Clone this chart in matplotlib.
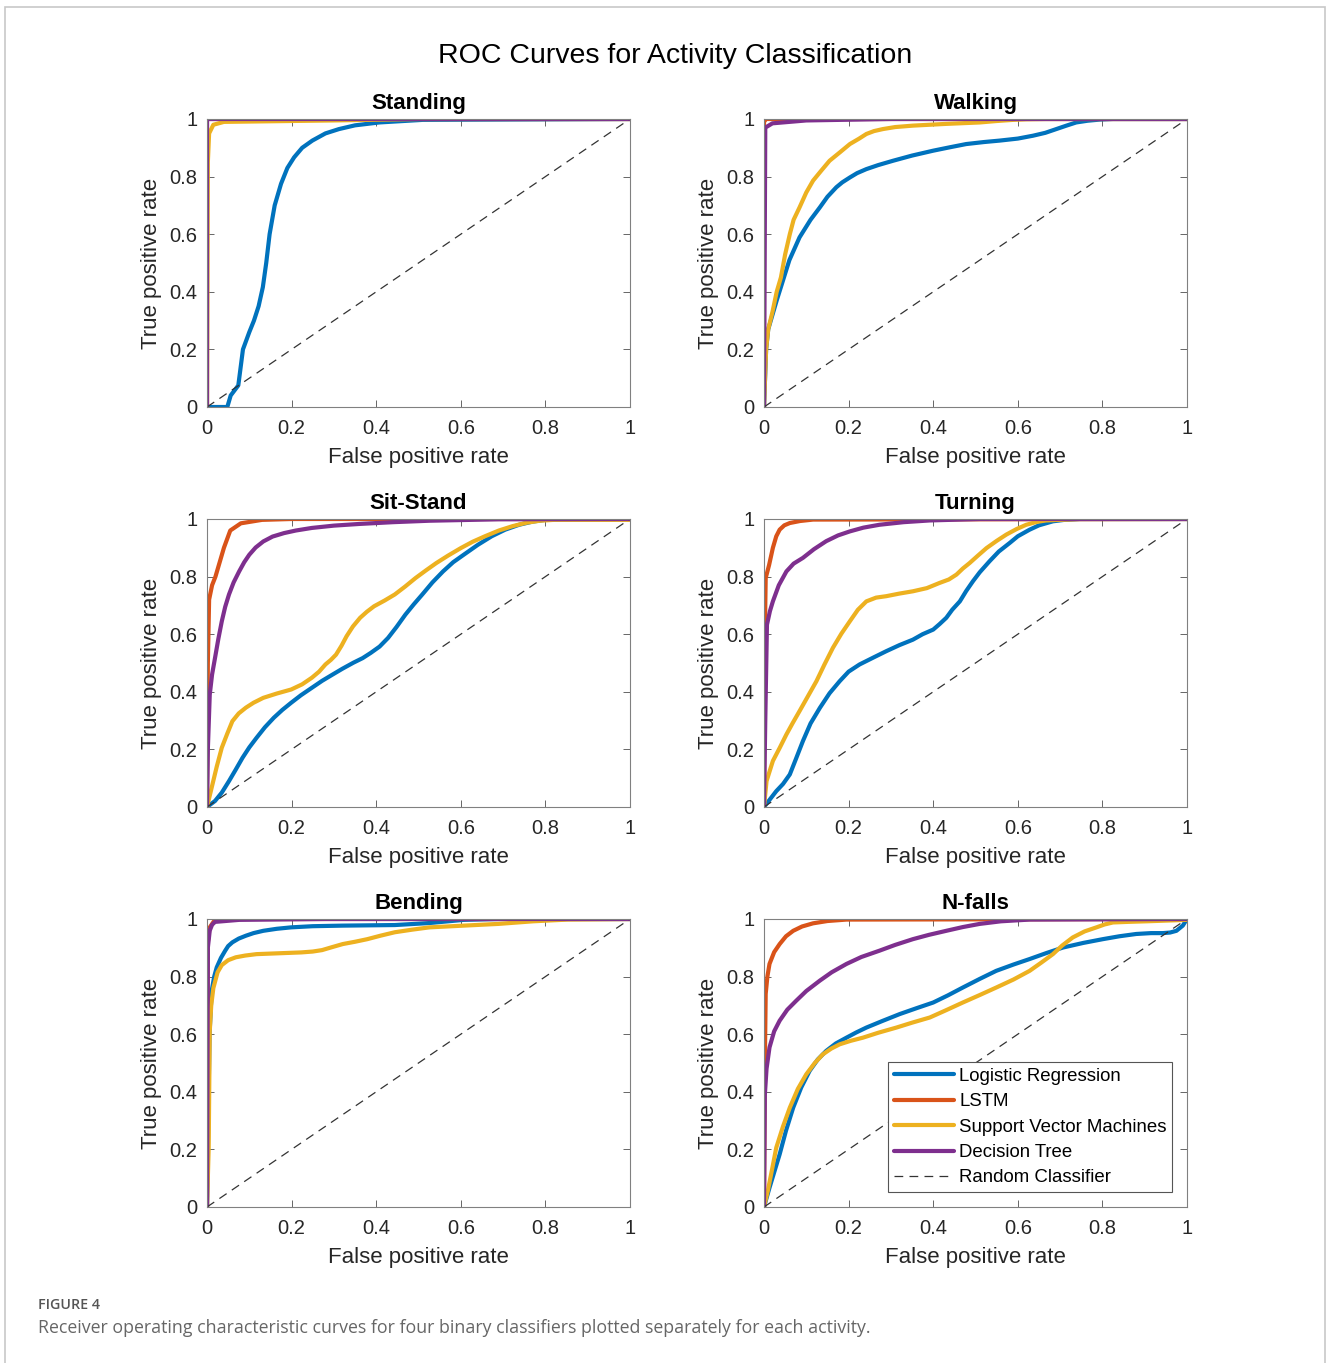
import matplotlib
matplotlib.use("Agg")
import matplotlib.pyplot as plt
from matplotlib.patches import Rectangle

plt.rcParams["font.family"] = ["Liberation Sans", "DejaVu Sans"]

# MATLAB default line colours
C_LR = "#0072BD"
C_LSTM = "#D95319"
C_SVM = "#EDB120"
C_DT = "#7E2F8E"

MODELS = ["Logistic Regression", "LSTM", "Support Vector Machines", "Decision Tree"]
ACTIVITIES = ["Standing", "Walking", "Sit-Stand", "Turning", "Bending", "N-falls"]
TICKS = [0, 0.2, 0.4, 0.6, 0.8, 1]
TICK_LABELS = ["0", "0.2", "0.4", "0.6", "0.8", "1"]

# ---- Standing ----
standing_lr_x = [0, 0.048, 0.056, 0.074, 0.085, 0.1, 0.111, 0.122, 0.132, 0.14, 0.148, 0.16, 0.175, 0.19, 0.206, 0.225, 0.249, 0.28, 0.312, 0.35, 0.407, 0.51, 1]
standing_lr_y = [0, 0, 0.04, 0.075, 0.2, 0.26, 0.30, 0.35, 0.416, 0.50, 0.60, 0.70, 0.775, 0.83, 0.867, 0.90, 0.925, 0.95, 0.965, 0.978, 0.988, 0.997, 1]
standing_lstm_x = [0, 0, 1]
standing_lstm_y = [0, 1, 1]
standing_svm_x = [0, 0.002, 0.005, 0.015, 0.04, 0.3, 0.5, 1]
standing_svm_y = [0, 0.85, 0.95, 0.98, 0.99, 0.995, 1, 1]
standing_dt_x = [0, 0, 1]
standing_dt_y = [0, 1, 1]

# ---- Walking ----
walking_lr_x = [0, 0.005, 0.01, 0.02, 0.03, 0.045, 0.06, 0.084, 0.11, 0.132, 0.15, 0.171, 0.185, 0.203, 0.22, 0.242, 0.27, 0.305, 0.35, 0.40, 0.44, 0.478, 0.52, 0.557, 0.6, 0.636, 0.665, 0.691, 0.715, 0.738, 0.765, 0.794, 0.825, 1]
walking_lr_y = [0, 0.2, 0.27, 0.32, 0.37, 0.44, 0.51, 0.589, 0.65, 0.693, 0.73, 0.763, 0.78, 0.797, 0.812, 0.826, 0.84, 0.855, 0.873, 0.89, 0.902, 0.913, 0.92, 0.925, 0.932, 0.942, 0.952, 0.965, 0.977, 0.988, 0.994, 0.998, 1, 1]
walking_lstm_x = [0, 0, 0.005, 1]
walking_lstm_y = [0, 0.99, 1, 1]
walking_svm_x = [0, 0.005, 0.01, 0.02, 0.03, 0.04, 0.05, 0.061, 0.07, 0.084, 0.1, 0.116, 0.135, 0.155, 0.18, 0.203, 0.225, 0.242, 0.26, 0.281, 0.31, 0.352, 0.43, 0.51, 0.55, 0.589, 0.62, 0.667, 1]
walking_svm_y = [0, 0.2, 0.27, 0.33, 0.40, 0.45, 0.53, 0.60, 0.65, 0.693, 0.745, 0.786, 0.82, 0.855, 0.885, 0.913, 0.932, 0.948, 0.958, 0.965, 0.972, 0.977, 0.983, 0.988, 0.993, 0.997, 0.999, 1, 1]
walking_dt_x = [0, 0.003, 0.02, 0.1, 0.3, 1]
walking_dt_y = [0, 0.97, 0.985, 0.995, 1, 1]

# ---- Sit-Stand ----
sit_lr_x = [0, 0.019, 0.035, 0.052, 0.068, 0.084, 0.1, 0.117, 0.137, 0.158, 0.178, 0.199, 0.222, 0.248, 0.272, 0.297, 0.32, 0.346, 0.368, 0.387, 0.408, 0.428, 0.448, 0.469, 0.489, 0.509, 0.533, 0.558, 0.582, 0.607, 0.64, 0.673, 0.705, 0.738, 0.77, 0.804, 1]
sit_lr_y = [0, 0.021, 0.05, 0.09, 0.13, 0.171, 0.207, 0.24, 0.277, 0.31, 0.337, 0.362, 0.388, 0.414, 0.438, 0.46, 0.48, 0.501, 0.517, 0.535, 0.557, 0.587, 0.625, 0.668, 0.704, 0.738, 0.78, 0.818, 0.85, 0.876, 0.91, 0.94, 0.963, 0.98, 0.991, 0.998, 1]
sit_lstm_x = [0, 0.002, 0.005, 0.012, 0.02, 0.03, 0.04, 0.055, 0.08, 0.13, 0.2, 1]
sit_lstm_y = [0, 0.5, 0.72, 0.77, 0.80, 0.85, 0.90, 0.96, 0.985, 0.997, 1, 1]
sit_svm_x = [0, 0.011, 0.023, 0.035, 0.048, 0.06, 0.075, 0.092, 0.11, 0.133, 0.165, 0.199, 0.225, 0.248, 0.265, 0.28, 0.293, 0.305, 0.318, 0.33, 0.345, 0.362, 0.378, 0.395, 0.42, 0.444, 0.468, 0.493, 0.518, 0.542, 0.57, 0.6, 0.628, 0.657, 0.69, 0.722, 0.755, 0.787, 0.82, 0.853, 1]
sit_svm_y = [0, 0.067, 0.14, 0.206, 0.255, 0.298, 0.325, 0.345, 0.362, 0.379, 0.394, 0.408, 0.426, 0.449, 0.47, 0.495, 0.511, 0.529, 0.56, 0.593, 0.627, 0.657, 0.678, 0.697, 0.717, 0.738, 0.765, 0.795, 0.822, 0.847, 0.873, 0.899, 0.921, 0.94, 0.96, 0.975, 0.987, 0.994, 0.997, 0.997, 0.997]
sit_dt_x = [0, 0.002, 0.0065, 0.012, 0.019, 0.027, 0.035, 0.043, 0.052, 0.063, 0.076, 0.088, 0.1, 0.115, 0.133, 0.155, 0.182, 0.21, 0.248, 0.3, 0.362, 0.44, 0.526, 0.69, 1]
sit_dt_y = [0, 0.2, 0.39, 0.46, 0.518, 0.585, 0.645, 0.695, 0.738, 0.78, 0.818, 0.85, 0.876, 0.901, 0.922, 0.939, 0.951, 0.96, 0.969, 0.977, 0.983, 0.989, 0.994, 0.999, 1]

# ---- Turning ----
turn_lr_x = [0, 0.029, 0.045, 0.061, 0.075, 0.092, 0.11, 0.132, 0.155, 0.179, 0.2, 0.226, 0.26, 0.289, 0.32, 0.352, 0.375, 0.4, 0.415, 0.431, 0.445, 0.463, 0.478, 0.494, 0.51, 0.533, 0.555, 0.581, 0.6, 0.628, 0.65, 0.683, 0.71, 0.746, 1]
turn_lr_y = [0, 0.055, 0.08, 0.113, 0.165, 0.229, 0.29, 0.344, 0.395, 0.437, 0.47, 0.495, 0.52, 0.541, 0.562, 0.581, 0.6, 0.616, 0.635, 0.657, 0.685, 0.714, 0.75, 0.784, 0.815, 0.853, 0.887, 0.917, 0.94, 0.963, 0.978, 0.992, 0.997, 1, 1]
turn_lstm_x = [0, 0.002, 0.004, 0.012, 0.021, 0.029, 0.037, 0.048, 0.061, 0.085, 0.116, 1]
turn_lstm_y = [0, 0.6, 0.795, 0.84, 0.9, 0.94, 0.963, 0.978, 0.986, 0.993, 0.998, 1]
turn_svm_x = [0, 0.006, 0.021, 0.037, 0.053, 0.068, 0.084, 0.104, 0.124, 0.143, 0.163, 0.183, 0.203, 0.222, 0.242, 0.265, 0.289, 0.32, 0.352, 0.385, 0.415, 0.437, 0.455, 0.47, 0.486, 0.505, 0.526, 0.55, 0.573, 0.597, 0.62, 0.645, 0.667, 0.746, 1]
turn_svm_y = [0, 0.09, 0.16, 0.205, 0.252, 0.292, 0.333, 0.385, 0.437, 0.495, 0.553, 0.602, 0.645, 0.685, 0.714, 0.727, 0.732, 0.741, 0.749, 0.76, 0.778, 0.79, 0.807, 0.828, 0.847, 0.872, 0.899, 0.924, 0.946, 0.965, 0.98, 0.99, 0.995, 1, 1]
turn_dt_x = [0, 0.003, 0.007, 0.014, 0.021, 0.035, 0.053, 0.07, 0.092, 0.118, 0.147, 0.175, 0.203, 0.235, 0.273, 0.33, 0.392, 0.51, 1]
turn_dt_y = [0, 0.3, 0.633, 0.68, 0.714, 0.77, 0.818, 0.845, 0.865, 0.895, 0.923, 0.943, 0.957, 0.97, 0.98, 0.989, 0.995, 1, 1]

# ---- Bending ----
bend_lr_x = [0, 0.003, 0.006, 0.011, 0.017, 0.023, 0.033, 0.043, 0.05, 0.06, 0.075, 0.092, 0.11, 0.133, 0.165, 0.199, 0.25, 0.321, 0.444, 0.526, 0.607, 0.689, 1]
bend_lr_y = [0, 0.3, 0.6, 0.75, 0.8, 0.832, 0.865, 0.89, 0.906, 0.919, 0.932, 0.942, 0.951, 0.959, 0.966, 0.971, 0.975, 0.977, 0.979, 0.986, 0.997, 1, 1]
bend_lstm_x = [0, 0.002, 0.006, 0.02, 1]
bend_lstm_y = [0, 0.92, 0.97, 1, 1]
bend_svm_x = [0, 0.004, 0.0065, 0.01, 0.015, 0.025, 0.035, 0.05, 0.068, 0.09, 0.117, 0.17, 0.223, 0.25, 0.272, 0.295, 0.321, 0.35, 0.379, 0.41, 0.444, 0.485, 0.526, 0.607, 0.689, 0.771, 0.853, 1]
bend_svm_y = [0, 0.206, 0.61, 0.7, 0.76, 0.815, 0.84, 0.857, 0.867, 0.873, 0.878, 0.881, 0.884, 0.887, 0.892, 0.902, 0.913, 0.921, 0.93, 0.942, 0.954, 0.963, 0.971, 0.977, 0.983, 0.992, 0.998, 1]
bend_dt_x = [0, 0.002, 0.0065, 0.012, 0.019, 0.076, 0.28, 1]
bend_dt_y = [0, 0.9, 0.96, 0.98, 0.99, 0.997, 1, 1]

# ---- N-falls ----
nf_lr_x = [0, 0.013, 0.025, 0.037, 0.052, 0.069, 0.088, 0.108, 0.127, 0.147, 0.17, 0.195, 0.218, 0.242, 0.28, 0.321, 0.36, 0.4, 0.435, 0.47, 0.51, 0.549, 0.59, 0.628, 0.668, 0.707, 0.755, 0.801, 0.84, 0.88, 0.915, 0.943, 0.96, 0.975, 0.99, 1]
nf_lr_y = [0, 0.067, 0.125, 0.183, 0.265, 0.345, 0.415, 0.473, 0.512, 0.542, 0.568, 0.588, 0.606, 0.623, 0.646, 0.67, 0.69, 0.71, 0.735, 0.762, 0.792, 0.82, 0.842, 0.861, 0.882, 0.901, 0.917, 0.93, 0.94, 0.948, 0.951, 0.951, 0.953, 0.959, 0.977, 1]
nf_lstm_x = [0, 0.002, 0.004, 0.008, 0.013, 0.024, 0.037, 0.052, 0.069, 0.09, 0.116, 0.15, 0.195, 1]
nf_lstm_y = [0, 0.5, 0.74, 0.8, 0.844, 0.885, 0.913, 0.94, 0.959, 0.974, 0.985, 0.993, 0.998, 1]
nf_svm_x = [0, 0.009, 0.019, 0.029, 0.045, 0.061, 0.08, 0.1, 0.12, 0.139, 0.159, 0.179, 0.205, 0.234, 0.27, 0.313, 0.35, 0.392, 0.43, 0.47, 0.51, 0.549, 0.59, 0.628, 0.655, 0.683, 0.705, 0.73, 0.758, 0.786, 0.805, 0.825, 0.86, 0.904, 1]
nf_svm_y = [0, 0.056, 0.13, 0.206, 0.28, 0.345, 0.41, 0.461, 0.5, 0.53, 0.55, 0.565, 0.577, 0.588, 0.605, 0.623, 0.64, 0.658, 0.683, 0.71, 0.736, 0.762, 0.79, 0.82, 0.848, 0.878, 0.908, 0.936, 0.957, 0.971, 0.981, 0.988, 0.99, 0.992, 0.997]
nf_dt_x = [0, 0.002, 0.006, 0.013, 0.024, 0.037, 0.055, 0.076, 0.1, 0.132, 0.16, 0.195, 0.23, 0.273, 0.31, 0.352, 0.39, 0.431, 0.47, 0.51, 0.56, 0.628, 1]
nf_dt_y = [0, 0.39, 0.48, 0.554, 0.61, 0.647, 0.685, 0.716, 0.75, 0.786, 0.815, 0.844, 0.868, 0.89, 0.91, 0.93, 0.945, 0.959, 0.972, 0.983, 0.992, 0.998, 1]

CURVES = {
    "Standing": [(standing_lr_x, standing_lr_y), (standing_lstm_x, standing_lstm_y),
                 (standing_svm_x, standing_svm_y), (standing_dt_x, standing_dt_y)],
    "Walking": [(walking_lr_x, walking_lr_y), (walking_lstm_x, walking_lstm_y),
                (walking_svm_x, walking_svm_y), (walking_dt_x, walking_dt_y)],
    "Sit-Stand": [(sit_lr_x, sit_lr_y), (sit_lstm_x, sit_lstm_y),
                  (sit_svm_x, sit_svm_y), (sit_dt_x, sit_dt_y)],
    "Turning": [(turn_lr_x, turn_lr_y), (turn_lstm_x, turn_lstm_y),
                (turn_svm_x, turn_svm_y), (turn_dt_x, turn_dt_y)],
    "Bending": [(bend_lr_x, bend_lr_y), (bend_lstm_x, bend_lstm_y),
                (bend_svm_x, bend_svm_y), (bend_dt_x, bend_dt_y)],
    "N-falls": [(nf_lr_x, nf_lr_y), (nf_lstm_x, nf_lstm_y),
                (nf_svm_x, nf_svm_y), (nf_dt_x, nf_dt_y)],
}
COLORS = [C_LR, C_LSTM, C_SVM, C_DT]

W, H = 1328, 1363
fig = plt.figure(figsize=(W / 100, H / 100), dpi=100)

# light frame round the whole figure
fig.patches.append(Rectangle((5 / W, -0.01), (W - 8) / W, 1 - 7 / H + 0.01,
                             transform=fig.transFigure, fill=False,
                             edgecolor="#c8c8c8", linewidth=1.2))

col_left = [207, 764]
col_width = 423
row_top = [119, 519, 919]
row_height = 288

tick_color = "#262626"

for i, name in enumerate(ACTIVITIES):
    r, c = divmod(i, 2)
    left = col_left[c] / W
    bottom = 1 - (row_top[r] + row_height) / H
    ax = fig.add_axes([left, bottom, col_width / W, row_height / H])

    for (xs, ys), color, label in zip(CURVES[name], COLORS, MODELS):
        ax.plot(xs, ys, color=color, linewidth=3.0, label=label,
                solid_joinstyle="round", solid_capstyle="round")
    ax.plot([0, 1], [0, 1], color="#333333", linestyle=(0, (7, 5)),
            linewidth=0.9, label="Random Classifier")

    ax.set_xlim(0, 1)
    ax.set_ylim(0, 1)
    ax.set_xticks(TICKS)
    ax.set_xticklabels(TICK_LABELS)
    ax.set_yticks(TICKS)
    ax.set_yticklabels(TICK_LABELS)
    ax.tick_params(direction="in", top=True, right=True, length=5,
                   width=0.7, colors="#666666", labelcolor=tick_color,
                   labelsize=14.5)
    ax.tick_params(axis="x", pad=9)
    ax.tick_params(axis="y", pad=7)
    for sp in ax.spines.values():
        sp.set_color("#808080")
        sp.set_linewidth(0.8)
    ax.set_xlabel("False positive rate", fontsize=16, color=tick_color, labelpad=6)
    ax.set_ylabel("True positive rate", fontsize=16, color=tick_color, labelpad=5)
    ax.set_title(name, fontsize=16, fontweight="bold", color="black", pad=7)

    if name == "N-falls":
        leg = ax.legend(loc="lower right", bbox_to_anchor=(0.965, 0.052),
                        fontsize=13.4, handlelength=3.2, handletextpad=0.3,
                        labelspacing=0.45, borderpad=0.3, fancybox=False,
                        framealpha=1, edgecolor="#555555",
                        borderaxespad=0)
        leg.get_frame().set_linewidth(0.8)

fig.text(675 / W, 1 - 56 / H, "ROC Curves for Activity Classification",
         ha="center", va="center", fontsize=20.5, color="black")

fig.text(38 / W, 1 - 1305 / H, "FIGURE 4", ha="left", va="center",
         fontsize=10.3, color="#555555", family=["Open Sans", "DejaVu Sans"],
         fontweight="semibold")
fig.text(38 / W, 1 - 1328 / H,
         "Receiver operating characteristic curves for four binary classifiers plotted separately for each activity.",
         ha="left", va="center", fontsize=12.8, color="#666666",
         family=["Open Sans", "DejaVu Sans"])

fig.savefig("out.png", dpi=100)
